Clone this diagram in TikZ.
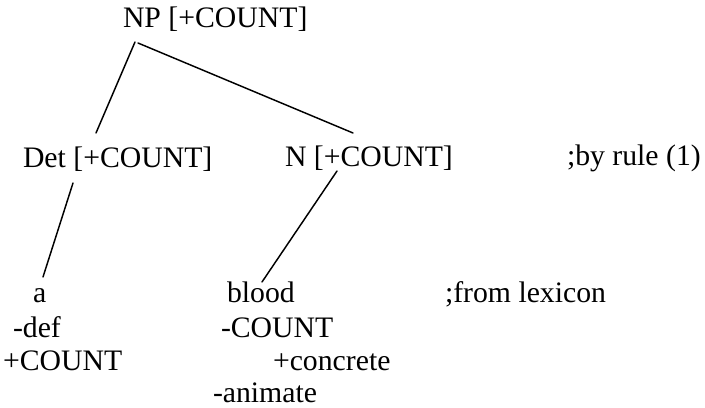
\documentclass[tikz,border=0pt]{standalone}
\usepackage{fontspec}
\setmainfont{Liberation Serif}
\usetikzlibrary{calc}
\begin{document}
\begin{tikzpicture}[x=0.75pt,y=-0.75pt,
  lbl/.style={anchor=base west,inner sep=0pt,outer sep=0pt,font=\fontsize{22.3}{26}\selectfont},
  edge/.style={line width=1.1pt,line cap=round}]
\useasboundingbox (0,0) rectangle (705,407);
\node[lbl] (NP) at (123,27) {NP [+COUNT]};
\node[lbl] (Det) at (23,167) {Det [+COUNT]};
\node[lbl] (N) at (285,166) {N [+COUNT]};
\node[lbl] (rule) at (567,165) {;by rule (1)};
\node[lbl] (a) at (33,302) {a};
\node[lbl] (blood) at (227,302) {blood};
\node[lbl] (lex) at (445,302) {;from lexicon};
\node[lbl] (def) at (13,337) {-def};
\node[lbl] (pc) at (3,370) {+COUNT};
\node[lbl] (mc) at (221,337) {-COUNT};
\node[lbl] (conc) at (273,370) {+concrete};
\node[lbl] (anim) at (213,402) {-animate};
\draw[edge] ($(NP.base west)+(12,15)$) -- ($(Det.base west)+(73,-34)$);
\draw[edge] ($(NP.base west)+(15,16)$) -- ($(N.base west)+(68,-33)$);
\draw[edge] ($(Det.base west)+(50,16)$) -- ($(a.base west)+(10,-25)$);
\draw[edge] ($(N.base west)+(52,5)$) -- ($(blood.base west)+(35,-20)$);
\end{tikzpicture}
\end{document}
